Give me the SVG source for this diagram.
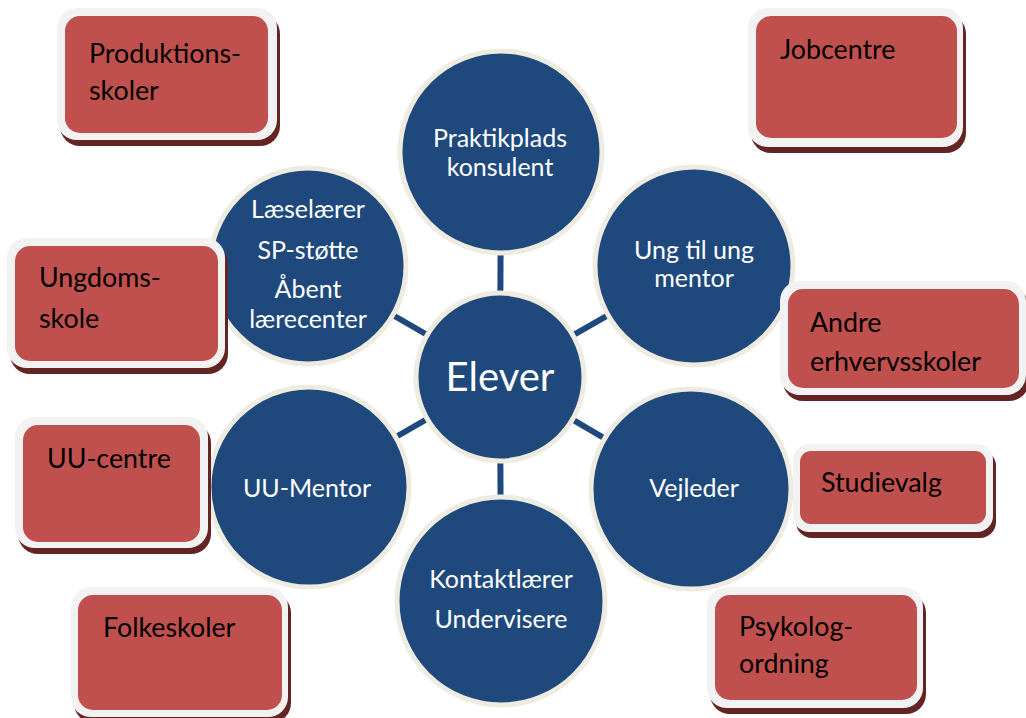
<svg xmlns="http://www.w3.org/2000/svg" width="1026" height="718" viewBox="0 0 1026 718">
<style>
.bg{fill:#ffffff}
.conn line{stroke:#1f497d;stroke-width:6}
.circ{fill:#1f497d;stroke:#eeece1;stroke-width:5}
.ct{font-family:Lato,"Liberation Sans",sans-serif;font-size:25px;fill:#ffffff;text-anchor:middle}
.big{font-size:40px}
.sh{fill:#632523}
.out{fill:#f2f2f2}
.in{fill:#c0504d}
.bt{font-family:Lato,"Liberation Sans",sans-serif;font-size:26.8px;fill:#000000}
</style>
<rect class="bg" x="0" y="0" width="1026" height="718"/>
<g id="connectors" class="conn">
<line x1="500" y1="377" x2="501" y2="154"/>
<line x1="500" y1="377" x2="694" y2="266"/>
<line x1="500" y1="377" x2="691" y2="489"/>
<line x1="500" y1="377" x2="501" y2="601"/>
<line x1="500" y1="377" x2="309" y2="487"/>
<line x1="500" y1="377" x2="308" y2="266"/>
</g>
<g id="n-elever"><circle class="circ" cx="500" cy="377" r="84"/><text class="ct big" x="500" y="391">Elever</text></g>
<g id="n-praktik"><circle class="circ" cx="501" cy="152" r="101"/><text class="ct" x="500" y="147">Praktikplads</text><text class="ct" x="500" y="176">konsulent</text></g>
<g id="n-ung"><circle class="circ" cx="694" cy="266" r="99"/><text class="ct" x="694" y="259">Ung til ung</text><text class="ct" x="694" y="287">mentor</text></g>
<g id="n-vejleder"><circle class="circ" cx="691" cy="489" r="100"/><text class="ct" x="694" y="497">Vejleder</text></g>
<g id="n-kontakt"><circle class="circ" cx="501" cy="601" r="104"/><text class="ct" x="501" y="588">Kontaktlærer</text><text class="ct" x="501" y="628">Undervisere</text></g>
<g id="n-uumentor"><circle class="circ" cx="309" cy="487" r="100"/><text class="ct" x="307" y="497">UU-Mentor</text></g>
<g id="n-laese"><circle class="circ" cx="308" cy="266" r="98"/><text class="ct" x="308" y="218">Læselærer</text><text class="ct" x="308" y="259">SP-støtte</text><text class="ct" x="308" y="298">Åbent</text><text class="ct" x="308" y="328">lærecenter</text></g>

<g id="b-produktion">
<rect class="sh" x="60" y="14" width="220" height="132" rx="20"/>
<rect class="out" x="57" y="8" width="220" height="132" rx="20"/>
<rect class="in" x="65" y="16" width="203" height="117" rx="15"/>
<text class="bt" x="89" y="63">Produktions-</text><text class="bt" x="89" y="100">skoler</text>
</g>
<g id="b-jobcentre">
<rect class="sh" x="751" y="14" width="215" height="139" rx="20"/>
<rect class="out" x="748" y="8" width="215" height="139" rx="20"/>
<rect class="in" x="756" y="16" width="201" height="122" rx="15"/>
<text class="bt" x="780" y="59">Jobcentre</text>
</g>
<g id="b-ungdom">
<rect class="sh" x="10" y="244" width="218" height="130" rx="20"/>
<rect class="out" x="7" y="238" width="218" height="130" rx="20"/>
<rect class="in" x="15" y="246" width="203" height="115" rx="15"/>
<text class="bt" x="39" y="287">Ungdoms-</text><text class="bt" x="39" y="328">skole</text>
</g>
<g id="b-andre">
<rect class="sh" x="783" y="287" width="246" height="114" rx="20"/>
<rect class="out" x="780" y="281" width="246" height="114" rx="20"/>
<rect class="in" x="788" y="289" width="231" height="99" rx="15"/>
<text class="bt" x="810" y="332">Andre</text><text class="bt" x="810" y="371">erhvervsskoler</text>
</g>
<g id="b-uucentre">
<rect class="sh" x="18" y="423" width="193" height="131" rx="20"/>
<rect class="out" x="15" y="417" width="193" height="131" rx="20"/>
<rect class="in" x="23" y="425" width="177" height="117" rx="15"/>
<text class="bt" x="47" y="468">UU-centre</text>
</g>
<g id="b-studievalg">
<rect class="sh" x="796" y="450" width="200" height="88" rx="16"/>
<rect class="out" x="793" y="444" width="200" height="88" rx="16"/>
<rect class="in" x="800" y="451" width="186" height="73" rx="11"/>
<text class="bt" x="821" y="492">Studievalg</text>
</g>
<g id="b-folkeskoler">
<rect class="sh" x="74" y="593" width="217" height="130" rx="20"/>
<rect class="out" x="71" y="587" width="217" height="130" rx="20"/>
<rect class="in" x="78" y="595" width="204" height="115" rx="15"/>
<text class="bt" x="103" y="637">Folkeskoler</text>
</g>
<g id="b-psykolog">
<rect class="sh" x="710" y="593" width="216" height="121" rx="20"/>
<rect class="out" x="707" y="587" width="216" height="121" rx="20"/>
<rect class="in" x="715" y="595" width="202" height="105" rx="15"/>
<text class="bt" x="739" y="636">Psykolog-</text><text class="bt" x="739" y="673">ordning</text>
</g>
</svg>
